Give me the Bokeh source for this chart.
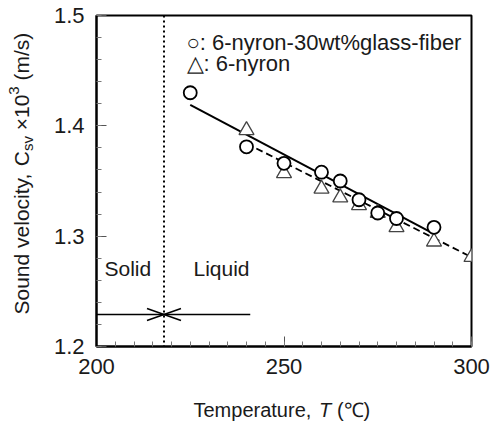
import math
from bokeh.plotting import figure
from bokeh.models import FixedTicker, Span, Range1d
from bokeh.layouts import row, column
from bokeh.core.properties import value
from bokeh.embed import file_html
from bokeh.resources import INLINE

# ---------------- data ----------------
GF_T = [225, 240, 250, 260, 265, 270, 275, 280, 290]
GF_V = [1.430, 1.381, 1.366, 1.358, 1.350, 1.333, 1.321, 1.316, 1.308]

NY_T = [240, 250, 260, 265, 270, 275, 280, 290, 300]
NY_V = [1.396, 1.357, 1.343, 1.335, 1.328, 1.321, 1.308, 1.295, 1.281]

GF_FIT_T = [225, 290]
GF_FIT_V = [1.419, 1.302]
NY_FIT_T = [240, 300]
NY_FIT_V = [1.384, 1.281]

MELT_T = 218
ARROW_T = [200, 241]
ARROW_V = 1.229

X_TICKS = [200, 250, 300]
X_MINOR = list(range(200, 301, 5))
Y_TICKS = [1.2, 1.3, 1.4, 1.5]
Y_MINOR = [round(1.2 + 0.02 * i, 2) for i in range(16)]

X_RANGE = (200, 300)
Y_RANGE = (1.2, 1.5)

LEGEND_GF = "○: 6-nyron-30wt%glass-fiber"
LEGEND_NY = "△: 6-nyron"
SOLID_TXT = "Solid"
LIQUID_TXT = "Liquid"

# ---------------- layout constants (pixels) ----------------
W, H = 493, 425
LEFT_W = 40
BOTTOM_H = 34
FRAME_L, FRAME_R, FRAME_T, FRAME_B = 96, 471, 15, 346
FONT = "Liberation Sans"
TXT = "#1a1a1a"

MAIN_W = W - LEFT_W
MAIN_H = H - BOTTOM_H


def px_x(px):
    return X_RANGE[0] + (px - FRAME_L) * (X_RANGE[1] - X_RANGE[0]) / (FRAME_R - FRAME_L)


def px_y(py):
    return Y_RANGE[0] + (FRAME_B - py) * (Y_RANGE[1] - Y_RANGE[0]) / (FRAME_B - FRAME_T)


p = figure(width=MAIN_W, height=MAIN_H, x_range=X_RANGE, y_range=Y_RANGE,
           output_backend="svg", toolbar_location=None,
           min_border_left=FRAME_L - LEFT_W, min_border_right=W - FRAME_R,
           min_border_top=FRAME_T, min_border_bottom=MAIN_H - FRAME_B)
p.xgrid.visible = False
p.ygrid.visible = False
p.outline_line_color = "black"
p.outline_line_width = 2
p.background_fill_color = "white"
p.border_fill_color = "white"

for ax, ticks, minor in ((p.xaxis, X_TICKS, X_MINOR), (p.yaxis, Y_TICKS, Y_MINOR)):
    ax.ticker = FixedTicker(ticks=ticks, minor_ticks=minor)
    ax.axis_line_color = "black"
    ax.axis_line_width = 2
    ax.major_tick_in = 10
    ax.major_tick_out = 0
    ax.minor_tick_in = 5
    ax.minor_tick_out = 0
    ax.major_tick_line_color = "#555555"
    ax.minor_tick_line_color = "#777777"
    ax.major_tick_line_width = 1
    ax.minor_tick_line_width = 1
    ax.major_label_text_font = FONT
    ax.major_label_text_font_size = "22px"
    ax.major_label_text_color = TXT

p.xaxis.major_label_standoff = 12
p.yaxis.major_label_standoff = 12
p.xaxis.major_label_overrides = {t: str(t) for t in X_TICKS}
p.yaxis.major_label_overrides = {t: f"{t:.1f}" for t in Y_TICKS}

# melting point dotted line
p.add_layout(Span(location=MELT_T, dimension="height", line_color="black",
                  line_width=2, line_dash="2 3"))

# solid/liquid arrow
p.line(ARROW_T, [ARROW_V, ARROW_V], line_color="black", line_width=1.5)
HEAD_DX = 17 * (X_RANGE[1] - X_RANGE[0]) / (FRAME_R - FRAME_L)
HEAD_DY = 6 * (Y_RANGE[1] - Y_RANGE[0]) / (FRAME_B - FRAME_T)
p.segment(x0=[MELT_T - HEAD_DX, MELT_T - HEAD_DX, MELT_T + HEAD_DX, MELT_T + HEAD_DX],
          y0=[ARROW_V + HEAD_DY, ARROW_V - HEAD_DY, ARROW_V + HEAD_DY, ARROW_V - HEAD_DY],
          x1=[MELT_T] * 4, y1=[ARROW_V] * 4, line_color="black", line_width=1.5)

# fit lines
p.line(NY_FIT_T, NY_FIT_V, line_color="black", line_width=1.8, line_dash="7 4")
p.line(GF_FIT_T, GF_FIT_V, line_color="black", line_width=2)

# markers
p.scatter(NY_T, NY_V, marker="triangle", size=15, fill_color="white",
          line_color="#444444", line_width=1.3)
p.scatter(GF_T, GF_V, marker="circle", size=13, fill_color="white",
          line_color="black", line_width=1.8)

# in-plot texts
p.text(x=[px_x(186), px_x(186)], y=[px_y(42), px_y(63)], text=[LEGEND_GF, LEGEND_NY],
       text_font=value(FONT), text_font_size=value("22px"), text_color=TXT,
       text_baseline="alphabetic", text_align="left")
p.text(x=[px_x(104), px_x(193)], y=[px_y(268), px_y(268)], text=[SOLID_TXT, LIQUID_TXT],
       text_font=value(FONT), text_font_size=value("21px"), text_color=TXT,
       text_baseline="alphabetic", text_align="left")


def strip(width, height, xr, yr, borders):
    bl, br, bt, bb = borders
    f = figure(width=width, height=height, x_range=Range1d(*xr), y_range=Range1d(*yr),
               output_backend="svg", toolbar_location=None,
               x_axis_type=None, y_axis_type=None,
               min_border_left=bl, min_border_right=br,
               min_border_top=bt, min_border_bottom=bb)
    f.xgrid.visible = False
    f.ygrid.visible = False
    f.outline_line_color = None
    f.background_fill_color = "white"
    f.border_fill_color = "white"
    return f


# ---------- y axis label (left strip, canvas pixel coordinates) ----------
left = strip(LEFT_W, H, (0, LEFT_W), (H, 0), (0, 0, 0, 0))
A = math.pi / 2


def ytxt(txt, x, y, size):
    left.text(x=[x], y=[y], text=[txt], angle=A, text_font=value(FONT),
              text_font_size=value(size), text_color=TXT,
              text_baseline="middle", text_align="left")


ytxt("Sound velocity,", 21, 314, "21px")
ytxt("C", 21, 165.8, "21px")
ytxt("sv", 26.5, 150.6, "15px")
ytxt("×10", 21, 129.8, "21px")
ytxt("3", 13.5, 94.2, "15px")
ytxt("(m/s)", 21, 80.1, "21px")

# ---------- x axis label (bottom strip, frame aligned with the main frame) ----------
bottom = strip(MAIN_W, BOTTOM_H, (FRAME_L, FRAME_R), (H, MAIN_H),
               (FRAME_L - LEFT_W, W - FRAME_R, 0, 0))


def xtxt(txt, x, style):
    bottom.text(x=[x], y=[409], text=[txt], text_font=value(FONT),
                text_font_size=value("20px"), text_font_style=value(style), text_color=TXT,
                text_baseline="middle", text_align="left")


xtxt("Temperature,", 193, "normal")
xtxt("T", 318.6, "italic")
xtxt("(℃)", 336.4, "normal")

layout = row(left, column(p, bottom, spacing=0), spacing=0)

open("out.html", "w").write(file_html(layout, INLINE))
